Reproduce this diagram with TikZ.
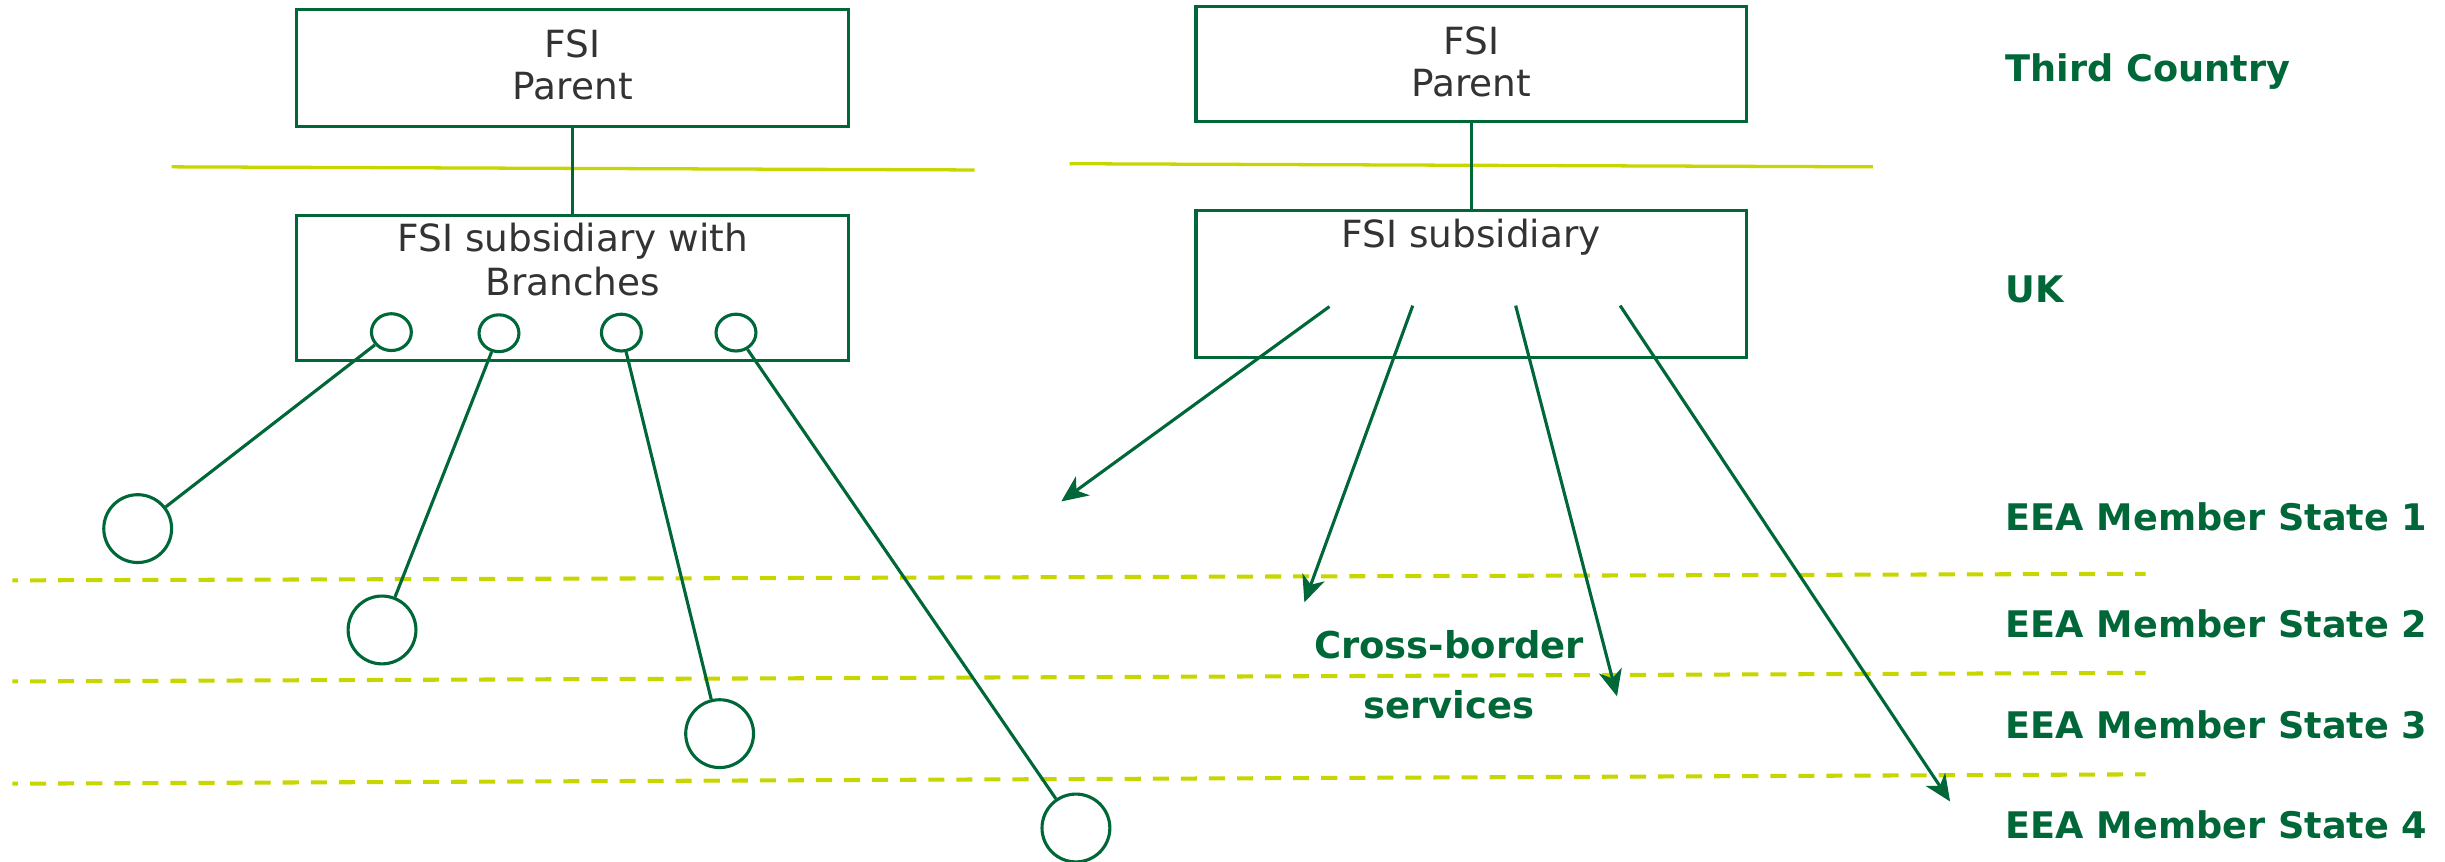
\documentclass[tikz,border=0pt]{standalone}
\usepackage{fontspec}
\setmainfont{DejaVu Sans}
\usetikzlibrary{arrows.meta,shapes.geometric}
\definecolor{fsigreen}{RGB}{0,104,56}
\definecolor{fsilime}{RGB}{200,214,0}
\definecolor{fsitext}{RGB}{51,51,51}
\begin{document}
\begin{tikzpicture}[x=1pt,y=-1pt,
  box/.style={draw=fsigreen, line width=2pt, minimum width=354pt, inner sep=0pt},
  boxtext/.style={text=fsitext, font=\fontsize{24}{28}\selectfont, inner sep=0pt, anchor=base},
  lab/.style={text=fsigreen, font=\bfseries\fontsize{23.5}{28}\selectfont, inner sep=0pt, anchor=base west},
  cbtext/.style={text=fsigreen, font=\bfseries\fontsize{23.7}{28}\selectfont, inner sep=0pt, anchor=base},
  conn/.style={draw=fsigreen, line width=2pt},
  arr/.style={draw=fsigreen, line width=2pt, -{Stealth[length=17pt,width=15pt,inset=5pt]}},
  border/.style={draw=fsilime, line width=2.1pt},
  eea/.style={draw=fsilime, line width=2.6pt, dash pattern=on 10.3pt off 7.7pt, dash phase=6.7pt},
  brsmall/.style={draw=fsigreen, line width=2pt, ellipse, minimum width=25.6pt, minimum height=23.6pt, inner sep=0pt},
  brbig/.style={draw=fsigreen, line width=2pt, circle, minimum size=43.5pt, inner sep=0pt},
]
\useasboundingbox (0,0) rectangle (1568,552.8);

% country borders
\draw[border] (110,107) -- (625,109);
\draw[border] (686,105) -- (1201,107);
\draw[eea] (8,372.2) -- (1376,368);
\draw[eea] (8,437) -- (1376,431.5);
\draw[eea] (8,502.6) -- (1376,496.6);

% left structure
\node[box, minimum height=75pt] (lp) at (367.3,43.5) {};
\node[boxtext] (lpt1) at (367.3,37) {FSI};
\node[boxtext] (lpt2) at (367.3,64) {Parent};
\node[box, minimum height=93pt] (ls) at (367.3,184.5) {};
\node[boxtext] (lst1) at (367.3,161.3) {FSI subsidiary with};
\node[boxtext] (lst2) at (367.3,189.7) {Branches};
\draw[conn] (lp.south) -- (ls.north);

\node[brsmall] (s1) at (251,213) {};
\node[brsmall] (s2) at (320,213.7) {};
\node[brsmall] (s3) at (398.5,213.3) {};
\node[brsmall] (s4) at (472,213.3) {};
\node[brbig] (c1) at (88.3,339) {};
\node[brbig] (c2) at (245,404) {};
\node[brbig] (c3) at (461.5,470.5) {};
\node[brbig] (c4) at (690,531) {};
\draw[conn] (s1) -- (c1);
\draw[conn] (s2) -- (c2);
\draw[conn] (s3) -- (c3);
\draw[conn] (s4) -- (c4);

% right structure
\node[box, minimum width=353pt, minimum height=74pt] (rp) at (943.5,41) {};
\node[boxtext] (rpt1) at (943.5,35) {FSI};
\node[boxtext] (rpt2) at (943.5,62) {Parent};
\node[box, minimum width=353pt, minimum height=94.5pt] (rs) at (943.5,182.3) {};
\node[boxtext] (rst1) at (943.5,159) {FSI subsidiary};
\draw[conn] (rp.south) -- (rs.north);

\coordinate (a1s) at (852.6,196.6);
\coordinate (a2s) at (906,196);
\coordinate (a3s) at (972,196);
\coordinate (a4s) at (1039,196);
\coordinate (a1e) at (680.6,321.6);
\coordinate (a2e) at (836.5,386.3);
\coordinate (a3e) at (1037,446.6);
\coordinate (a4e) at (1250.6,514);
\draw[arr] (a1s) -- (a1e);
\draw[arr] (a2s) -- (a2e);
\draw[arr] (a3s) -- (a3e);
\draw[arr] (a4s) -- (a4e);

\node[cbtext] (cb1) at (929.3,422.6) {Cross-border};
\node[cbtext] (cb2) at (929.3,460.9) {services};

% jurisdiction labels
\node[lab] (l0) at (1286,52.4) {Third Country};
\node[lab] (l1) at (1286,193.7) {UK};
\node[lab] (l2) at (1286,339.9) {EEA Member State 1};
\node[lab] (l3) at (1286,408.6) {EEA Member State 2};
\node[lab] (l4) at (1286,473.8) {EEA Member State 3};
\node[lab] (l5) at (1286,538) {EEA Member State 4};
\end{tikzpicture}
\end{document}
